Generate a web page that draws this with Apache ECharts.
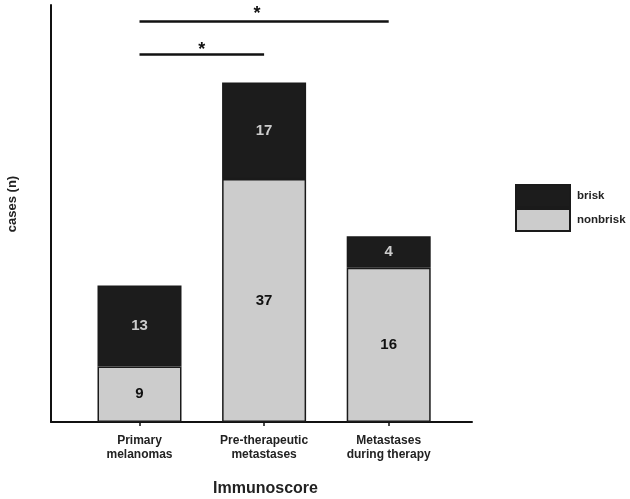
<!DOCTYPE html>
<html>
<head>
<meta charset="utf-8">
<script src="https://cdn.jsdelivr.net/npm/echarts@6/dist/echarts.min.js"></script>
<style>html,body{margin:0;padding:0;background:#fff;}#c{width:630px;height:499px;}</style>
</head>
<body>
<div id="c"></div>
<script>
// Categories
var categories = ['Primary\nmelanomas', 'Pre-therapeutic\nmetastases', 'Metastases\nduring therapy'];
// Bar segment heights as drawn in the picture (axis units)
var nonbriskHeights = [9.3, 40.8, 25.9];
var briskHeights = [13.6, 16.2, 5.3];
// Case counts printed in the bars
var nonbriskCounts = [9, 37, 16];
var briskCounts = [13, 17, 4];
// Significance brackets: [from category index, to category index, level]
var brackets = [[0, 2, 67.2], [0, 1, 61.7]];
var bracketLabels = ['*', '*'];

var FONT = 'Liberation Sans, Arial, sans-serif';
var chart = echarts.init(document.getElementById('c'));

chart.setOption({
  animation: false,
  backgroundColor: '#ffffff',
  grid: [
    { left: 77.2, top: 5, width: 373.8, height: 417, containLabel: false, outerBoundsMode: 'none' },
    { left: 51, top: 5, width: 421, height: 417, containLabel: false, outerBoundsMode: 'none' }
  ],
  legend: {
    orient: 'vertical',
    left: 515, top: 184,
    padding: 0,
    icon: 'rect',
    itemWidth: 54, itemHeight: 22, itemGap: 0,
    data: ['brisk', 'nonbrisk'],
    textStyle: { fontFamily: FONT, fontWeight: 'bold', fontSize: 11.5, color: '#222', padding: [0, 0, 0, 2] }
  },
  xAxis: [
    {
      gridIndex: 0,
      type: 'category',
      data: categories,
      axisLine: { show: false },
      axisTick: { show: true, alignWithLabel: true, length: 4, lineStyle: { color: '#111', width: 1.5 } },
      axisLabel: {
        show: true, margin: 12,
        fontFamily: FONT, fontWeight: 'bold', fontSize: 12, lineHeight: 14, color: '#222'
      },
      splitLine: { show: false }
    },
    {
      gridIndex: 1,
      type: 'value',
      min: 0, max: 1,
      name: 'Immunoscore',
      nameLocation: 'middle',
      nameGap: 59,
      nameTextStyle: { fontFamily: FONT, fontWeight: 'bold', fontSize: 16, color: '#222', padding: [0, 0, 0, 8] },
      axisLine: { show: true, lineStyle: { color: '#111', width: 2 } },
      axisTick: { show: false },
      axisLabel: { show: false },
      splitLine: { show: false }
    }
  ],
  yAxis: [
    {
      gridIndex: 0,
      type: 'value',
      min: 0, max: 70,
      axisLine: { show: false },
      axisTick: { show: false },
      axisLabel: { show: false },
      splitLine: { show: false }
    },
    {
      gridIndex: 1,
      type: 'value',
      min: 0, max: 70,
      name: 'cases (n)',
      nameLocation: 'middle',
      nameGap: 32,
      nameTextStyle: { fontFamily: FONT, fontWeight: 'bold', fontSize: 13, color: '#222', padding: [0, 0, 0, 19] },
      axisLine: { show: true, lineStyle: { color: '#111', width: 2 } },
      axisTick: { show: false },
      axisLabel: { show: false },
      splitLine: { show: false }
    }
  ],
  series: [
    {
      name: 'nonbrisk',
      type: 'bar',
      xAxisIndex: 0, yAxisIndex: 0,
      stack: 'total',
      barWidth: 84,
      data: nonbriskHeights,
      itemStyle: { color: '#cccccc', borderColor: '#1a1a1a', borderWidth: 1.5 },
      label: {
        show: true, position: 'inside',
        fontFamily: FONT, fontWeight: 'bold', fontSize: 15, color: '#111',
        formatter: function (p) { return String(nonbriskCounts[p.dataIndex]); }
      },
      markLine: {
        silent: true,
        symbol: ['none', 'none'],
        lineStyle: { color: '#111', width: 2.5, type: 'solid' },
        label: { show: true, position: 'middle', distance: 0, fontFamily: FONT, fontWeight: 'bold', fontSize: 18, color: '#111' },
        data: brackets.map(function (b, i) {
          return [
            { coord: [b[0], b[2]], label: { formatter: bracketLabels[i], offset: i === 0 ? [-7, 1] : [0, 5] } },
            { coord: [b[1], b[2]] }
          ];
        })
      }
    },
    {
      name: 'brisk',
      type: 'bar',
      xAxisIndex: 0, yAxisIndex: 0,
      stack: 'total',
      barWidth: 84,
      data: briskHeights,
      itemStyle: { color: '#1c1c1c', borderColor: '#1a1a1a', borderWidth: 1.5 },
      label: {
        show: true, position: 'inside',
        fontFamily: FONT, fontWeight: 'bold', fontSize: 15, color: '#cccccc',
        formatter: function (p) { return String(briskCounts[p.dataIndex]); }
      }
    }
  ]
});
</script>
</body>
</html>
